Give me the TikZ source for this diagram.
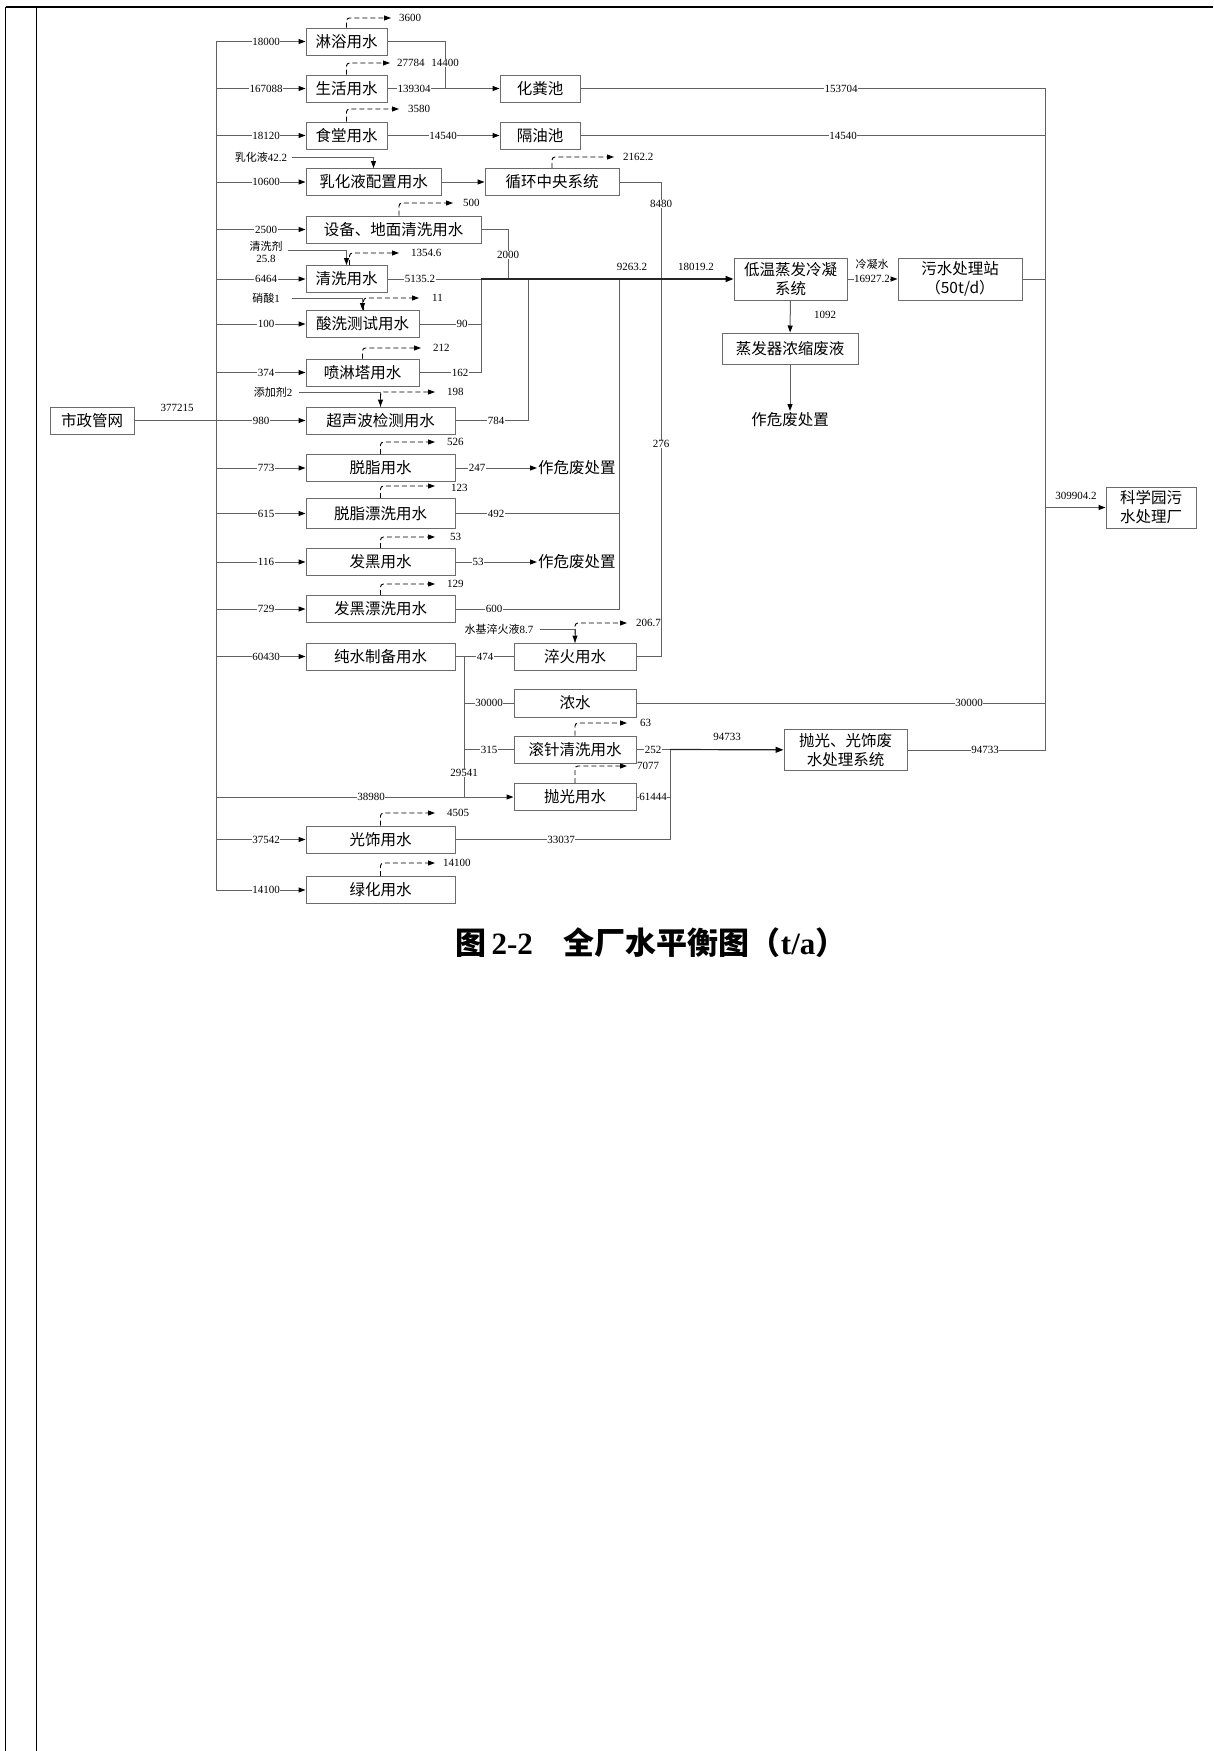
\documentclass[tikz,border=0pt]{standalone}
\usepackage{fontspec}
\setmainfont{Liberation Serif}
\newfontfamily\cjk{Noto Sans CJK SC}
\usetikzlibrary{arrows.meta,calc}
\colorlet{linegray}{black!62}
\colorlet{boxgray}{black!58}
\newcommand\lbf{\fontsize{11}{12.5}\selectfont}
\tikzset{
  box/.style={draw=boxgray, line width=1pt, minimum height=27pt, inner sep=0pt, align=center,
              font=\cjk\fontsize{15.5}{19}\selectfont},
  ln/.style={draw=linegray, line width=1pt},
  arr/.style={ln, -{Triangle[length=7pt,width=5pt,black]}},
  mainarr/.style={draw=black!85, line width=1.5pt, -{Triangle[length=8pt,width=6pt,black]}},
  lab/.style={fill=white, inner sep=0.6pt, font=\lbf},
  elab/.style={inner sep=0pt, anchor=west, font=\lbf},
  small/.style={inner sep=0.5pt, font=\lbf, align=center},
  evap/.style={draw=black, line width=0.9pt, dash pattern=on 5pt off 3pt, rounded corners=3pt,
               -{Triangle[length=7pt,width=5pt,black]}},
  waste/.style={inner sep=1pt, font=\cjk\fontsize{15.5}{18}\selectfont},
}
\begin{document}
\begin{tikzpicture}[x=1pt,y=-1pt]
\useasboundingbox (0,0) rectangle (1213,1751);
% page frame
\draw[line width=2pt] (5.5,6.5) -- (1213,6.5);
\draw[line width=1pt] (5.5,6.5) -- (5.5,1751);
\draw[line width=1pt] (36,6.5) -- (36,1751);

% ---------- boxes ----------
\node[box, minimum width=84pt] (shizheng) at (92,420.5) {市政管网};
\node[box, minimum width=81pt] (linyu) at (346.5,41.5) {淋浴用水};
\node[box, minimum width=81pt] (shenghuo) at (346.5,88.5) {生活用水};
\node[box, minimum width=81pt] (shitang) at (346.5,135.5) {食堂用水};
\node[box, minimum width=135pt] (ruhua) at (373.5,182) {乳化液配置用水};
\node[box, minimum width=175pt] (shebei) at (393.5,229.5) {设备、地面清洗用水};
\node[box, minimum width=81pt] (qingxi) at (346.5,279) {清洗用水};
\node[box, minimum width=113pt] (suanxi) at (362.5,324) {酸洗测试用水};
\node[box, minimum width=113pt] (penlin) at (362.5,372.5) {喷淋塔用水};
\node[box, minimum width=149pt] (chaosheng) at (380.5,420.5) {超声波检测用水};
\node[box, minimum width=149pt] (tuozhi) at (380.5,468) {脱脂用水};
\node[box, minimum width=149pt, minimum height=30pt] (tuozhipx) at (380.5,513.5) {脱脂漂洗用水};
\node[box, minimum width=149pt] (fahei) at (380.5,562) {发黑用水};
\node[box, minimum width=149pt] (faheipx) at (380.5,609) {发黑漂洗用水};
\node[box, minimum width=149pt] (chunshui) at (380.5,656.5) {纯水制备用水};
\node[box, minimum width=149pt] (guangshi) at (380.5,839.5) {光饰用水};
\node[box, minimum width=149pt] (lvhua) at (380.5,890) {绿化用水};
\node[box, minimum width=80pt] (huafen) at (540,88.5) {化粪池};
\node[box, minimum width=80pt] (geyou) at (540,135.5) {隔油池};
\node[box, minimum width=134pt] (xunhuan) at (552,182) {循环中央系统};
\node[box, minimum width=113pt, minimum height=42pt] (diwen) at (790.5,279) {低温蒸发冷凝\\系统};
\node[box, minimum width=124pt, minimum height=42pt] (wushui) at (960,279) {污水处理站\\（50t/d）};
\node[box, minimum width=136pt, minimum height=31pt] (zhengfa) at (790,348.5) {蒸发器浓缩废液};
\node[box, minimum width=90pt, minimum height=41pt] (kexue) at (1151,507.5) {科学园污\\水处理厂};
\node[box, minimum width=122pt] (cuihuo) at (575,656.5) {淬火用水};
\node[box, minimum width=122pt, minimum height=28pt] (nongshui) at (575,703) {浓水};
\node[box, minimum width=122pt] (gunzhen) at (575,749.5) {滚针清洗用水};
\node[box, minimum width=122pt] (paoguang) at (575,797) {抛光用水};
\node[box, minimum width=123pt, minimum height=41pt] (pgsys) at (845.5,750) {抛光、光饰废\\水处理系统};
\node[waste, anchor=west] (wf1) at (537,468) {作危废处置};
\node[waste, anchor=west] (wf2) at (537,562) {作危废处置};
\node[waste, anchor=north] (wf3) at (790,411) {作危废处置};

% ---------- junction coordinates ----------
\coordinate (busT) at (216,41.5);
\coordinate (busB) at (216,890);
\coordinate (jA) at (445,41.5);
\coordinate (jQ) at (481,279);
\coordinate (jS) at (508,279);
\coordinate (jU) at (528,279);
\coordinate (jT) at (619,279);
\coordinate (jX) at (661,279);
\coordinate (cT) at (1045,88.5);
\coordinate (cB) at (1045,750);
\coordinate (jP) at (464,656.5);
\coordinate (jG) at (670,749.5);

% ---------- supply bus ----------
\draw[ln] (busT) -- (busB);
\draw[ln] (shizheng) -- (busT |- shizheng);
\foreach \n in {linyu,shenghuo,shitang,ruhua,shebei,qingxi,suanxi,penlin,chaosheng,tuozhi,tuozhipx,fahei,faheipx,chunshui,guangshi,lvhua,paoguang}
  \draw[arr] (busT |- \n) -- (\n);
\node[small] (l377215) at (177,408) {377215};
\node[lab] (i1) at (266,41.5) {18000};
\node[lab] (i2) at (266,88.5) {167088};
\node[lab] (i3) at (266,135.5) {18120};
\node[lab] (i4) at (266,182) {10600};
\node[lab] (i5) at (266,229.5) {2500};
\node[lab] (i6) at (266,279) {6464};
\node[lab] (i7) at (266,324) {100};
\node[lab] (i8) at (266,372.5) {374};
\node[lab] (i9) at (261,420.5) {980};
\node[lab] (i10) at (266,468) {773};
\node[lab] (i11) at (266,513.5) {615};
\node[lab] (i12) at (266,562) {116};
\node[lab] (i13) at (266,609) {729};
\node[lab] (i14) at (266,656.5) {60430};
\node[lab] (i15) at (371,797) {38980};
\node[lab] (i16) at (266,839.5) {37542};
\node[lab] (i17) at (266,890) {14100};

% ---------- additives ----------
\node[small] (a1) at (261,157) {{\cjk 乳化液}42.2};
\draw[arr] ($(a1.east)+(4,0)$) -| (ruhua.north);
\node[small] (a2) at (266,252) {{\cjk 清洗剂}\\25.8};
\draw[arr] ($(a2.east)+(5,-2)$) -| (qingxi.north);
\node[small] (a3) at (266,298) {{\cjk 硝酸}1};
\draw[arr] ($(a3.east)+(12,0)$) -| (suanxi.north);
\node[small] (a4) at (273,392) {{\cjk 添加剂}2};
\draw[arr] ($(a4.east)+(6,0)$) -| (chaosheng.north);
\node[small] (a5) at (499,629) {{\cjk 水基淬火液}8.7};
\draw[arr] ($(a5.east)+(6,0)$) -| (cuihuo.north);

% ---------- evaporation (dashed) ----------
\coordinate (e1) at (391,18);   \draw[evap] (linyu.north) |- (e1);   \node[elab] (v1) at ($(e1)+(8,0)$) {3600};
\coordinate (e2) at (390,63);   \draw[evap] (shenghuo.north) |- (e2); \node[elab] (v2) at ($(e2)+(7,0)$) {27784};
\coordinate (e3) at (399,109);  \draw[evap] (shitang.north) |- (e3);  \node[elab] (v3) at ($(e3)+(9,0)$) {3580};
\coordinate (e4) at (614,157);  \draw[evap] (xunhuan.north) |- (e4);  \node[elab] (v4) at ($(e4)+(9,0)$) {2162.2};
\coordinate (e5) at (453,203);  \draw[evap] ($(shebei.north)+(5.5,0)$) |- (e5); \node[elab] (v5) at ($(e5)+(10,0)$) {500};
\coordinate (e6) at (399,253);  \draw[evap] ($(qingxi.north)+(3,0)$) |- (e6); \node[elab] (v6) at ($(e6)+(12,0)$) {1354.6};
\coordinate (e7) at (419,298);  \draw[evap] ($(suanxi.north)+(1,0)$) |- (e7); \node[elab] (v7) at ($(e7)+(13,0)$) {11};
\coordinate (e8) at (421,348);  \draw[evap] (penlin.north) |- (e8);   \node[elab] (v8) at ($(e8)+(12,0)$) {212};
\coordinate (e9) at (435,392);  \draw[evap] (chaosheng.north) |- (e9); \node[elab] (v9) at ($(e9)+(12,0)$) {198};
\coordinate (e10) at (435,442); \draw[evap] (tuozhi.north) |- (e10);  \node[elab] (v10) at ($(e10)+(12,0)$) {526};
\coordinate (e11) at (435,486); \draw[evap] (tuozhipx.north) |- (e11); \node[elab] (v11) at ($(e11)+(16,2)$) {123};
\coordinate (e12) at (435,537); \draw[evap] (fahei.north) |- (e12);   \node[elab] (v12) at ($(e12)+(15,0)$) {53};
\coordinate (e13) at (435,584); \draw[evap] (faheipx.north) |- (e13); \node[elab] (v13) at ($(e13)+(12,0)$) {129};
\coordinate (e14) at (627,623); \draw[evap] (cuihuo.north) |- (e14);  \node[elab] (v14) at ($(e14)+(9,0)$) {206.7};
\coordinate (e15) at (627,723); \draw[evap] (gunzhen.north) |- (e15); \node[elab] (v15) at ($(e15)+(13,0)$) {63};
\coordinate (e16) at (627,766); \draw[evap] (paoguang.north) |- (e16); \node[elab] (v16) at ($(e16)+(10,0)$) {7077};
\coordinate (e17) at (435,813); \draw[evap] (guangshi.north) |- (e17); \node[elab] (v17) at ($(e17)+(12,0)$) {4505};
\coordinate (e18) at (435,863); \draw[evap] (lvhua.north) |- (e18);  \node[elab] (v18) at ($(e18)+(8,0)$) {14100};

% ---------- domestic branch ----------
\draw[ln] (linyu) -- (jA) -- (jA |- shenghuo);
\node[lab] (o1) at (445,63) {14400};
\draw[arr] (shenghuo) -- (huafen);
\node[lab] (o2) at (414,88.5) {139304};
\draw[arr] (shitang) -- (geyou);
\node[lab] (o3) at (443,135.5) {14540};
\draw[arr] (ruhua) -- (xunhuan);

% ---------- collector to science park ----------
\draw[ln] (huafen) -| (cB) -- (pgsys);
\node[lab] (o4) at (841,88.5) {153704};
\node[lab] (o5) at (985,750) {94733};
\draw[ln] (geyou) -- (geyou -| cT);
\node[lab] (o6) at (843,135.5) {14540};
\draw[ln] (wushui) -- (wushui -| cT);
\draw[ln] (nongshui) -- (nongshui -| cT);
\node[lab] (o7) at (969,703) {30000};
\draw[arr] (cT |- kexue) -- (kexue);
\node[small] (o8) at (1076,496) {309904.2};

% ---------- evaporation-condensation line ----------
\draw[ln] (xunhuan) -| (jX);
\node[lab] (o9) at (661,204) {8480};
\draw[ln] (cuihuo) -| (jX);
\node[lab] (o10) at (661,444) {276};
\draw[ln] (shebei) -| (jS);
\node[lab] (o11) at (508,255) {2000};
\draw[ln] (qingxi) -- (jQ);
\node[lab] (o12) at (420,279) {5135.2};
\draw[ln] (suanxi) -| (jQ);
\node[lab] (o13) at (462,324) {90};
\draw[ln] (penlin) -| (jQ);
\node[lab] (o14) at (460,372.5) {162};
\draw[ln] (chaosheng) -| (jU);
\node[lab] (o15) at (496,420.5) {784};
\draw[ln] (tuozhipx) -| (jT);
\node[lab] (o16) at (496,513.5) {492};
\draw[ln] (faheipx) -| (jT);
\node[lab] (o17) at (494,609) {600};
\draw[mainarr] (jQ) -- (diwen);
\node[small] (o18) at (632,267) {9263.2};
\node[small] (o19) at (696,267) {18019.2};
\draw[arr] (diwen) -- (wushui);
\node[small] (o20) at (872,264) {{\cjk 冷凝水}};
\node[lab] (o21) at (872,279) {16927.2};
\draw[arr] (diwen) -- (zhengfa);
\node[small] (o22) at (825,315) {1092};
\draw[arr] (zhengfa) -- (wf3);

% ---------- hazardous waste ----------
\draw[arr] (tuozhi) -- (wf1);
\node[lab] (o23) at (477,468) {247};
\draw[arr] (fahei) -- (wf2);
\node[lab] (o24) at (478,562) {53};

% ---------- pure water branch ----------
\draw[ln] (chunshui) -- (cuihuo);
\node[lab] (o25) at (485,656.5) {474};
\draw[ln] (jP) -- (jP |- paoguang);
\node[lab] (o26) at (464,773) {29541};
\draw[ln] (jP |- nongshui) -- (nongshui);
\node[lab] (o27) at (489,703) {30000};
\draw[ln] (jP |- gunzhen) -- (gunzhen);
\node[lab] (o28) at (489,749.5) {315};

% ---------- polishing wastewater ----------
\draw[ln] (gunzhen) -- (jG);
\draw[mainarr, line width=1.2pt] (jG) -- (pgsys);
\node[lab] (o29) at (653,749.5) {252};
\node[small] (o30) at (727,737) {94733};
\draw[ln] (paoguang) -| (jG);
\node[lab] (o31) at (653,797) {61444};
\draw[ln] (guangshi) -| (jG);
\node[lab] (o32) at (561,839.5) {33037};

% ---------- caption ----------
\node[inner sep=0pt, font=\fontsize{31}{34}\selectfont\bfseries] (cap) at (651,943)
  {{\cjk 图}\hspace{5pt}2-2{\cjk 　全厂水平衡图（}t/a{\cjk ）}};
\end{tikzpicture}
\end{document}
